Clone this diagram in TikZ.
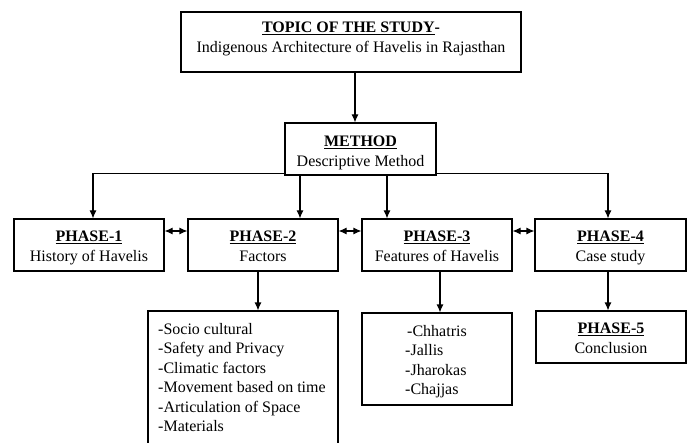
\documentclass[tikz,border=0pt]{standalone}
\usepackage{fontspec}
\setmainfont{Liberation Serif}
\usetikzlibrary{arrows.meta}
\tikzset{
  box/.style={draw=black, line width=1.1pt, inner sep=0pt, align=center,
    font=\fontsize{16}{19.5}\selectfont},
  listtext/.style={inner sep=0pt, align=left, anchor=north west,
    font=\fontsize{16}{19.5}\selectfont},
  arr/.style={line width=1.1pt, -{Latex[length=8pt,width=7pt]}},
  darr/.style={line width=1.1pt, {Latex[length=8pt,width=7pt]}-{Latex[length=8pt,width=7pt]}},
}
\newcommand{\ttl}[1]{\underline{\textbf{#1}}}
\newcommand{\sst}{\rule[-4pt]{0pt}{15pt}}
\newcommand{\sstt}{\rule[-4pt]{0pt}{21pt}}
\begin{document}
\begin{tikzpicture}[x=1pt,y=-1pt]
\useasboundingbox (0,0) rectangle (692,443);
\clip (0,0) rectangle (692,443);
\fill[white] (0,0) rectangle (692,443);
\node[box, minimum width=340pt, minimum height=60pt] (topic) at (351,42)
  {\sst\ttl{TOPIC OF THE STUDY}\textbf{-}\\\sst Indigenous Architecture of Havelis in Rajasthan\rule[-10pt]{0pt}{10pt}};
\node[box, minimum width=151pt, minimum height=52pt] (method) at (360.5,149)
  {\rule[-4pt]{0pt}{23pt}\ttl{METHOD}\\\sst Descriptive Method};
\node[box, minimum width=150pt, minimum height=52pt] (p1) at (89,245)
  {\sstt\ttl{PHASE-1}\\\sst History of Havelis};
\node[box, minimum width=150pt, minimum height=52pt] (p2) at (263,245)
  {\sstt\ttl{PHASE-2}\\\sst Factors};
\node[box, minimum width=150pt, minimum height=52pt] (p3) at (437,245)
  {\sstt\ttl{PHASE-3}\\\sst Features of Havelis};
\node[box, minimum width=151pt, minimum height=52pt] (p4) at (610.5,245)
  {\sstt\ttl{PHASE-4}\\\sst Case study};
\node[box, minimum width=190pt, minimum height=150pt] (fac) at (243,386) {};
\node[listtext] (factxt) at (158,323)
  {-Socio cultural\\-Safety and Privacy\\-Climatic factors\\-Movement based on time\\-Articulation of Space\\-Materials};
\node[box, minimum width=150pt, minimum height=92pt] (feat) at (437,359) {};
\node[listtext] (feattxt) at (405,325)
  {\hspace{2pt}-Chhatris\\-Jallis\\-Jharokas\\-Chajjas};
\node[box, minimum width=150pt, minimum height=52pt] (p5) at (611,337)
  {\sstt\ttl{PHASE-5}\\\sst Conclusion};
% helper coordinates
\coordinate (xa) at (355,0);
\coordinate (xb) at (300,0);
\coordinate (xc) at (387,0);
\coordinate (xd) at (258,0);
\coordinate (xe) at (440,0);
\coordinate (xf) at (608,0);
\coordinate (xg) at (93,0);
\coordinate (yh) at (0,231);
% connectors
\draw[arr] (topic.south -| xa) -- (method.north -| xa);
\draw[arr] ([yshift=2pt]method.south west) -| (p1.north -| xg);
\draw[arr] ([yshift=2pt]method.south east) -| (p4.north -| xf);
\draw[arr] (method.south -| xb) -- (p2.north -| xb);
\draw[arr] (method.south -| xc) -- (p3.north -| xc);
\draw[darr] (p1.east |- yh) -- (p2.west |- yh);
\draw[darr] (p2.east |- yh) -- (p3.west |- yh);
\draw[darr] (p3.east |- yh) -- (p4.west |- yh);
\draw[arr] (p2.south -| xd) -- (fac.north -| xd);
\draw[arr] (p3.south -| xe) -- (feat.north -| xe);
\draw[arr] (p4.south -| xf) -- (p5.north -| xf);
\end{tikzpicture}
\end{document}
